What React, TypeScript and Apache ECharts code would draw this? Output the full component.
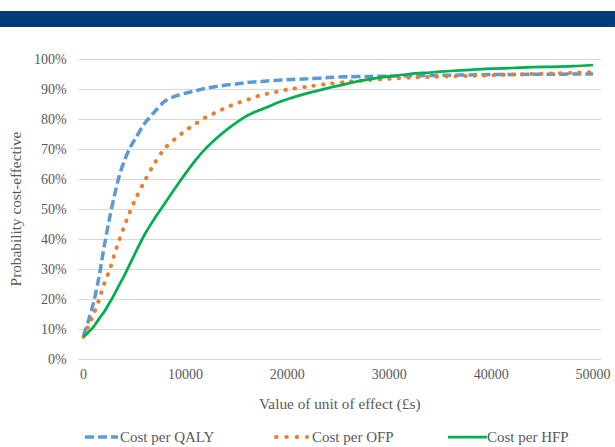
import React, { useEffect, useRef } from "react";
import * as echarts from "echarts";

const xValues = [0, 500, 1000, 1500, 2000, 2500, 3000, 3500, 4000, 4500, 5000, 6000, 7000, 8000, 9000, 10000, 11000, 12000, 13000, 14000, 15000, 16000, 17000, 18000, 19000, 20000, 22000, 24000, 26000, 28000, 30000, 32000, 34000, 36000, 38000, 40000, 42000, 44000, 46000, 48000, 50000];

const qaly = [7.7, 13, 19, 27, 37, 46, 54, 61, 66, 70, 73, 78.5, 82.5, 86, 87.6, 88.6, 89.4, 90.2, 90.8, 91.3, 91.7, 92.1, 92.4, 92.7, 92.9, 93.1, 93.4, 93.8, 94.1, 94.2, 94.3, 94.4, 94.5, 94.6, 94.7, 94.8, 94.8, 94.9, 94.9, 95, 95];

const ofp = [7.4, 11.2, 15, 19.5, 24.8, 29.1, 34.5, 39.6, 44.2, 48.6, 52.6, 59.3, 65.4, 70.3, 73.4, 76.1, 78.4, 80.6, 82.2, 83.8, 85.2, 86.3, 87.5, 88.4, 89.1, 89.8, 90.8, 91.7, 92.4, 93, 93.4, 93.8, 94, 94.2, 94.4, 94.6, 94.8, 95, 95.2, 95.4, 95.6];

const hfp = [7.4, 9, 10.8, 13.3, 15.6, 18.4, 21.4, 24.6, 27.8, 31.3, 34.8, 41.5, 47, 52, 57, 61.8, 66.3, 70.2, 73.4, 76.3, 78.8, 81, 82.6, 83.9, 85.4, 86.6, 88.6, 90.3, 91.9, 93.2, 94.2, 95, 95.5, 96, 96.4, 96.8, 97, 97.3, 97.4, 97.6, 98];

const xTickLabels = [0, 10000, 20000, 30000, 40000, 50000];
const seriesNames = ["Cost per QALY", "Cost per OFP", "Cost per HFP"];
const seriesColors = ["#5B9BD5", "#ED7D31", "#00B050"];

const FONT = "Liberation Serif";
const GRAY = "#595959";

const toPairs = (ys: number[]) => xValues.map((x, i) => [x, ys[i] / 100]);

export default function App() {
  const ref = useRef<HTMLDivElement>(null);
  useEffect(() => {
    if (!ref.current) return;
    const chart = echarts.init(ref.current, null, { renderer: "svg" });
    const LY = 437;
    const legendTextStyle = (x: number, text: string) => ({
      type: "text",
      x,
      y: LY,
      style: {
        text,
        fill: GRAY,
        font: `15px ${FONT}`,
        fontFamily: FONT,
        fontSize: 15,
        verticalAlign: "middle",
        align: "left",
      },
      silent: true,
    });
    chart.setOption({
      animation: false,
      backgroundColor: "#ffffff",
      textStyle: { fontFamily: FONT },
      graphic: [
        {
          type: "rect",
          shape: { x: 0, y: 11, width: 615, height: 16 },
          style: { fill: "#003C7C" },
          silent: true,
        },
        {
          type: "line",
          shape: { x1: 85, y1: LY, x2: 118, y2: LY },
          style: { stroke: seriesColors[0], lineWidth: 3.5, lineDash: [9, 4], lineCap: "butt" },
          silent: true,
        },
        legendTextStyle(120, seriesNames[0]),
        {
          type: "line",
          shape: { x1: 276, y1: LY, x2: 307, y2: LY },
          style: { stroke: seriesColors[1], lineWidth: 4, lineDash: [0.5, 9.8], lineCap: "round" },
          silent: true,
        },
        legendTextStyle(312, seriesNames[1]),
        {
          type: "line",
          shape: { x1: 448, y1: LY, x2: 487, y2: LY },
          style: { stroke: seriesColors[2], lineWidth: 2.75 },
          silent: true,
        },
        legendTextStyle(487, seriesNames[2]),
      ],
      grid: { left: 75, right: 14, top: 59, bottom: 88, containLabel: false },
      xAxis: {
        type: "value",
        min: -487,
        max: 50780,
        name: "Value of unit of effect (£s)",
        nameLocation: "middle",
        nameGap: 37,
        nameTextStyle: { fontFamily: FONT, fontSize: 15.3, color: GRAY },
        axisLine: { show: false },
        axisTick: { show: false },
        splitLine: { show: false },
        axisLabel: {
          customValues: xTickLabels,
          fontFamily: FONT,
          fontSize: 14,
          color: GRAY,
          margin: 8,
          formatter: (v: number) => String(v),
        },
      },
      yAxis: {
        type: "value",
        min: 0,
        max: 1,
        interval: 0.1,
        name: "Probability cost-effective",
        nameLocation: "middle",
        nameGap: 49,
        nameTextStyle: { fontFamily: FONT, fontSize: 15.3, color: GRAY },
        axisLine: { show: false },
        axisTick: { show: false },
        splitLine: { lineStyle: { color: "#D9D9D9", width: 1 } },
        axisLabel: {
          fontFamily: FONT,
          fontSize: 14,
          color: GRAY,
          margin: 12,
          formatter: (v: number) => Math.round(v * 100) + "%",
        },
      },
      series: [
        {
          name: seriesNames[0],
          type: "line",
          data: toPairs(qaly),
          smooth: 0.3,
          showSymbol: false,
          symbol: "none",
          color: seriesColors[0],
          lineStyle: { color: seriesColors[0], width: 3.5, type: [9, 4], cap: "butt" },
          z: 3,
        },
        {
          name: seriesNames[1],
          type: "line",
          data: toPairs(ofp),
          smooth: 0.3,
          showSymbol: false,
          symbol: "none",
          color: seriesColors[1],
          lineStyle: { color: seriesColors[1], width: 4, type: [0.5, 9], cap: "round" },
          z: 4,
        },
        {
          name: seriesNames[2],
          type: "line",
          data: toPairs(hfp),
          smooth: 0.3,
          showSymbol: false,
          symbol: "none",
          color: seriesColors[2],
          lineStyle: { color: seriesColors[2], width: 2.75 },
          z: 5,
        },
      ],
    });
    return () => chart.dispose();
  }, []);
  return (
    <div
      ref={ref}
      style={{ position: "fixed", left: 0, top: 0, width: 615, height: 447 }}
    />
  );
}
